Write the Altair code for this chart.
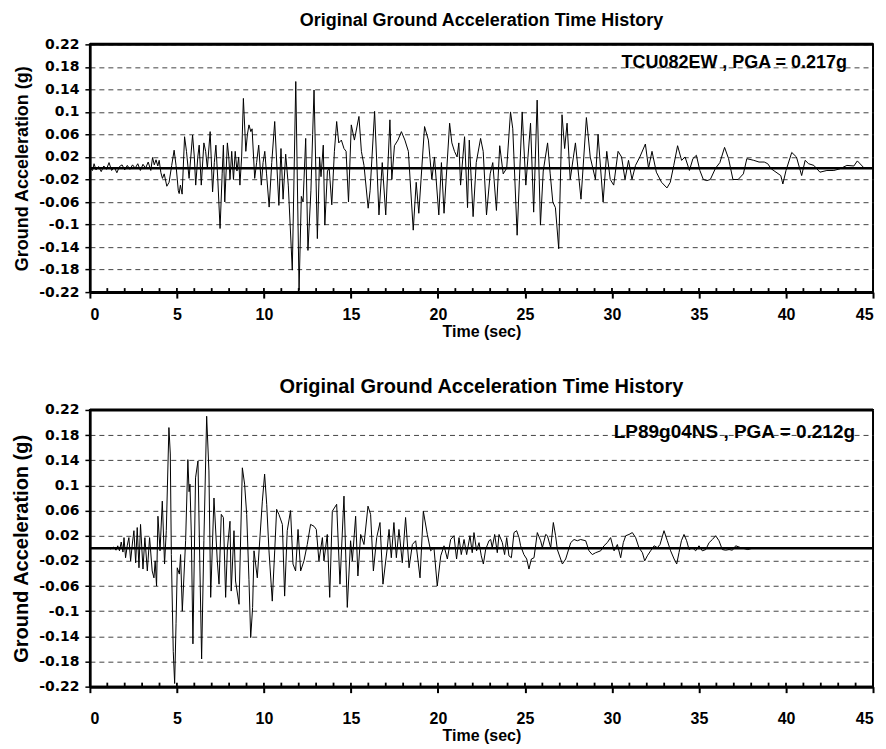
import altair as alt
import pandas as pd

# ---- records -------------------------------------------------------------
TITLE = "Original Ground Acceleration Time History"

tcu_label = "TCU082EW , PGA = 0.217g"
tcu_time = [
    0.0, 0.15, 0.24, 0.35, 0.5, 0.65, 0.8, 0.95, 1.1, 1.25, 1.4, 1.55, 1.7, 1.85,
    2.0, 2.15, 2.3, 2.45, 2.6, 2.75, 2.9, 3.05, 3.2, 3.35, 3.5, 3.6, 3.7, 3.8,
    3.9, 3.98, 4.08, 4.17, 4.27, 4.42, 4.55, 4.7, 4.84, 4.95, 5.08, 5.13, 5.2,
    5.3, 5.44, 5.55, 5.7, 5.9, 6.0, 6.08, 6.2, 6.28, 6.4, 6.55, 6.65, 6.75, 6.91,
    7.05, 7.15, 7.24, 7.35, 7.48, 7.6, 7.67, 7.75, 7.9, 7.98, 8.05, 8.15, 8.25,
    8.35, 8.45, 8.55, 8.62, 8.72, 8.82, 8.96, 9.05, 9.14, 9.25, 9.32, 9.47, 9.58,
    9.7, 9.85, 9.95, 10.05, 10.15, 10.3, 10.45, 10.62, 10.75, 10.86, 10.98, 11.1,
    11.25, 11.4, 11.63, 11.83, 12.02, 12.15, 12.25, 12.4, 12.53, 12.7, 12.8,
    12.88, 13.07, 13.2, 13.28, 13.41, 13.5, 13.65, 13.75, 13.9, 14.05, 14.18,
    14.3, 14.45, 14.6, 14.72, 14.86, 15.02, 15.2, 15.46, 15.6, 15.75, 15.99,
    16.1, 16.36, 16.61, 16.8, 17.0, 17.24, 17.35, 17.5, 17.7, 17.9, 18.1, 18.3,
    18.58, 18.75, 18.9, 19.23, 19.45, 19.65, 19.8, 20.05, 20.2, 20.35, 20.67,
    20.8, 20.95, 21.1, 21.2, 21.3, 21.53, 21.7, 21.8, 22.02, 22.2, 22.45, 22.6,
    22.79, 23.0, 23.15, 23.36, 23.55, 23.75, 23.95, 24.17, 24.3, 24.55, 24.84,
    25.05, 25.32, 25.5, 25.7, 25.89, 26.05, 26.3, 26.45, 26.6, 26.75, 26.94,
    27.13, 27.28, 27.42, 27.6, 27.9, 28.22, 28.53, 28.75, 29.05, 29.2, 29.49,
    29.7, 29.9, 30.1, 30.35, 30.55, 30.75, 30.95, 31.15, 31.35, 31.6, 31.92,
    32.1, 32.3, 32.55, 32.85, 33.16, 33.35, 33.55, 33.77, 34.0, 34.2, 34.45,
    34.65, 34.85, 35.05, 35.25, 35.45, 35.65, 35.95, 36.2, 36.47, 36.7, 36.95,
    37.25, 37.55, 37.75, 38.15, 38.45, 38.75, 38.95, 39.15, 39.7, 39.82, 40.0,
    40.33, 40.6, 40.9, 41.1, 41.3, 41.6, 41.95, 42.35, 42.75, 43.1, 43.5, 43.9,
    44.1, 44.5, 44.9,
]
tcu_accel = [
    0.0, -0.004, 0.008, -0.003, 0.003, -0.006, 0.004, -0.002, 0.01, -0.004,
    0.002, -0.008, 0.003, 0.006, -0.003, 0.005, -0.002, 0.006, 0.0, 0.008,
    -0.004, 0.007, 0.0, 0.011, -0.004, 0.019, 0.006, 0.015, 0.004, 0.014,
    -0.008, -0.018, -0.01, -0.032, -0.025, 0.005, 0.032, 0.005, -0.04, -0.045,
    -0.03, -0.046, 0.056, 0.03, -0.018, 0.059, 0.02, -0.03, 0.02, 0.041, -0.03,
    0.045, 0.03, 0.0, 0.065, -0.042, 0.01, 0.041, -0.02, -0.107, -0.01, 0.041,
    -0.06, 0.045, 0.02, -0.02, 0.03, -0.02, 0.03, -0.005, 0.02, -0.03, 0.02,
    0.124, 0.03, 0.06, 0.077, 0.065, 0.07, -0.018, 0.01, 0.041, -0.03, 0.01,
    0.03, -0.01, -0.069, 0.01, 0.083, 0.0, -0.066, 0.035, -0.055, 0.025, -0.03,
    -0.181, 0.154, -0.216, -0.05, -0.06, 0.053, -0.146, -0.04, 0.06, 0.139,
    -0.125, 0.02, -0.015, 0.041, -0.101, -0.005, 0.0, -0.065, 0.03, 0.083,
    0.045, 0.05, 0.035, 0.03, -0.06, 0.077, 0.05, 0.092, 0.03, 0.005, -0.071,
    -0.04, 0.101, -0.083, 0.01, -0.083, 0.086, -0.02, 0.04, 0.05, 0.065, 0.05,
    0.03, -0.11, -0.025, -0.08, 0.074, 0.05, -0.02, 0.02, -0.083, 0.01, -0.08,
    0.08, 0.045, 0.03, 0.02, 0.045, -0.03, 0.056, -0.07, 0.05, -0.086, 0.01,
    0.053, 0.03, -0.083, -0.01, 0.01, -0.075, 0.04, -0.01, 0.0, 0.1, 0.07,
    -0.119, 0.1, -0.03, 0.08, -0.078, 0.121, -0.101, -0.005, 0.045, -0.01,
    -0.06, -0.07, -0.143, 0.095, 0.035, 0.08, -0.02, 0.045, -0.055, 0.09, 0.02,
    -0.02, 0.06, -0.06, 0.03, -0.02, -0.03, 0.03, 0.02, -0.02, 0.014, -0.02,
    0.005, 0.02, 0.043, 0.0, 0.03, -0.007, -0.025, -0.035, -0.025, 0.005, 0.04,
    0.014, 0.02, -0.004, 0.017, 0.023, -0.004, -0.02, -0.022, -0.02, 0.0, 0.01,
    0.037, 0.017, -0.02, -0.02, -0.01, 0.017, 0.014, 0.011, 0.011, 0.008,
    -0.001, -0.013, -0.028, -0.004, 0.028, 0.02, -0.013, 0.014, 0.008, 0.005,
    -0.007, -0.004, -0.004, -0.001, 0.005, 0.004, 0.013, 0.0, 0.0,
]

lp_label = "LP89g04NS , PGA = 0.212g"
lp_time = [
    0.0, 0.6, 1.0, 1.2, 1.38, 1.5, 1.6, 1.7, 1.8, 1.9, 1.96, 2.05, 2.15, 2.24,
    2.34, 2.45, 2.53, 2.63, 2.72, 2.82, 2.91, 3.05, 3.16, 3.3, 3.43, 3.58, 3.68,
    3.75, 3.83, 3.91, 4.03, 4.16, 4.29, 4.39, 4.54, 4.62, 4.68, 4.79, 4.87,
    4.95, 5.02, 5.14, 5.21, 5.31, 5.5, 5.63, 5.7, 5.75, 5.83, 5.92, 6.07, 6.21,
    6.3, 6.42, 6.55, 6.71, 6.84, 6.94, 7.13, 7.32, 7.42, 7.55, 7.67, 7.8, 7.9,
    8.05, 8.12, 8.28, 8.37, 8.57, 8.76, 8.89, 9.01, 9.14, 9.24, 9.35, 9.43,
    9.62, 9.72, 9.91, 10.04, 10.16, 10.29, 10.48, 10.62, 10.73, 10.86, 11.06,
    11.19, 11.34, 11.53, 11.67, 11.82, 11.96, 12.11, 12.3, 12.49, 12.68, 12.88,
    13.01, 13.16, 13.36, 13.45, 13.64, 13.78, 13.93, 14.18, 14.37, 14.6, 14.79,
    14.98, 15.08, 15.27, 15.4, 15.56, 15.75, 15.98, 16.13, 16.29, 16.48, 16.67,
    16.84, 17.09, 17.19, 17.32, 17.47, 17.61, 17.76, 17.95, 18.14, 18.34,
    18.53, 18.72, 18.97, 19.16, 19.39, 19.58, 19.77, 19.96, 20.16, 20.35,
    20.54, 20.73, 20.92, 21.07, 21.21, 21.34, 21.5, 21.65, 21.84, 21.97, 22.07,
    22.22, 22.36, 22.49, 22.61, 22.74, 22.93, 23.03, 23.12, 23.26, 23.41,
    23.51, 23.7, 23.83, 23.95, 24.08, 24.22, 24.37, 24.52, 24.66, 24.75, 24.94,
    25.1, 25.23, 25.37, 25.52, 25.71, 25.9, 26.0, 26.19, 26.29, 26.48, 26.63,
    26.76, 26.86, 27.15, 27.34, 27.63, 27.82, 28.01, 28.2, 28.49, 28.68, 28.87,
    29.06, 29.35, 29.54, 29.73, 29.92, 30.12, 30.31, 30.5, 30.65, 30.79, 30.98,
    31.17, 31.36, 31.55, 31.75, 31.88, 32.03, 32.22, 32.42, 32.61, 32.76,
    32.99, 33.18, 33.37, 33.57, 33.72, 33.85, 33.99, 34.14, 34.29, 34.43,
    34.62, 34.81, 35.0, 35.19, 35.39, 35.58, 35.77, 35.96, 36.15, 36.34, 36.53,
    36.73, 36.92, 37.11, 37.4, 37.8, 38.2, 38.5,
]
lp_accel = [
    0.0, 0.0, 0.001, -0.001, 0.002, -0.003, 0.004, -0.004, 0.01, -0.006, 0.017,
    -0.015, 0.005, 0.017, -0.02, 0.01, 0.028, -0.023, 0.033, -0.031, 0.038,
    -0.033, 0.017, -0.036, 0.017, -0.036, -0.047, -0.02, -0.06, 0.051, -0.004,
    0.075, -0.025, 0.028, 0.192, 0.15, -0.01, -0.164, -0.215, -0.12, -0.031,
    -0.041, -0.01, -0.1, 0.012, 0.141, 0.09, 0.102, 0.02, -0.152, 0.112, 0.139,
    0.0, -0.176, 0.012, 0.21, 0.123, -0.078, 0.08, -0.02, -0.057, 0.054, 0.049,
    -0.078, 0.0, 0.043, -0.068, 0.028, -0.052, -0.089, 0.128, 0.102, 0.054,
    -0.05, -0.142, -0.094, -0.004, -0.047, -0.004, 0.075, 0.118, 0.07, -0.004,
    -0.084, -0.004, 0.062, 0.054, 0.038, -0.076, 0.028, 0.06, -0.025, -0.036,
    0.03, -0.036, -0.02, 0.006, 0.038, 0.035, 0.03, -0.02, 0.017, -0.02, 0.022,
    -0.078, 0.059, 0.07, -0.057, 0.083, -0.094, 0.012, -0.02, 0.051, -0.044,
    0.022, 0.006, 0.067, 0.054, -0.036, 0.017, 0.041, -0.057, 0.001, 0.03,
    -0.015, 0.041, -0.015, 0.03, -0.023, 0.049, -0.031, 0.006, 0.012, -0.047,
    0.059, 0.022, -0.004, 0.001, -0.06, -0.012, 0.004, -0.017, 0.014, 0.02,
    -0.017, 0.017, -0.01, 0.014, -0.01, 0.02, -0.007, 0.025, -0.004, 0.009,
    -0.012, -0.025, -0.002, 0.012, 0.014, 0.001, 0.022, -0.007, 0.022, 0.009,
    -0.01, 0.017, -0.012, -0.015, 0.025, 0.028, 0.017, 0.004, -0.01, -0.017,
    -0.033, -0.017, -0.015, 0.025, 0.012, 0.001, 0.022, 0.02, 0.001, 0.041,
    0.02, -0.002, -0.025, -0.017, 0.009, 0.014, 0.012, 0.014, 0.012, -0.004,
    -0.01, -0.007, -0.004, 0.004, 0.009, 0.017, -0.004, 0.006, -0.015, 0.009,
    0.02, 0.022, 0.025, 0.017, 0.001, -0.007, -0.02, -0.012, -0.004, 0.004,
    0.001, 0.006, 0.028, 0.012, -0.004, -0.017, -0.025, -0.007, 0.012, 0.022,
    0.012, -0.002, 0.001, -0.004, 0.004, -0.004, -0.002, 0.009, 0.014, 0.02,
    0.012, -0.002, -0.003, -0.002, -0.003, 0.004, 0.001, -0.002, 0.001, 0.0,
]

# ---- axes ----------------------------------------------------------------
y_ticks = [0.22, 0.18, 0.14, 0.1, 0.06, 0.02, -0.02, -0.06, -0.1, -0.14, -0.18, -0.22]
x_ticks = [0, 5, 10, 15, 20, 25, 30, 35, 40, 45]
minor_ticks = list(range(0, 46))

SANS = "Liberation Sans"
LABEL_FONT = "DejaVu Sans"
WIDTH = 784

x_scale = alt.Scale(domain=[0, 45], nice=False, zero=False)
y_scale = alt.Scale(domain=[-0.22, 0.22], nice=False, zero=False)


def panel(times, accel, label, height, title_size, title_offset, ytitle_size,
          note_size, note_dx, note_dy, xlabel_pad):
    trace = pd.DataFrame({"t": times, "a": accel})
    x_enc = alt.X(
        "t:Q", scale=x_scale,
        axis=alt.Axis(
            values=x_ticks, format="d", title="Time (sec)",
            labelFont=SANS, labelFontSize=16, labelFontWeight="bold",
            labelPadding=xlabel_pad, labelColor="black",
            titleFont=SANS, titleFontSize=16, titleFontWeight="bold",
            titlePadding=1, titleColor="black",
            tickSize=6, tickWidth=2, tickColor="black",
            domainWidth=3, domainColor="black", grid=False,
        ),
    )
    y_enc = alt.Y(
        "a:Q", scale=y_scale,
        axis=alt.Axis(
            values=y_ticks,
            labelExpr="replace(format(datum.value, '.2~f'), '\u2212', '-')",
            title="Ground Acceleration (g)",
            labelFont=LABEL_FONT, labelFontSize=14, labelFontWeight="bold",
            labelPadding=6, labelColor="black",
            titleFont=SANS, titleFontSize=ytitle_size, titleFontWeight="bold",
            titlePadding=7, titleColor="black",
            tickSize=5, tickWidth=1.5, tickColor="black",
            domainWidth=2.5, domainColor="black",
            grid=True, gridColor="#444444", gridDash=[5, 4], gridWidth=1,
        ),
    )

    line = alt.Chart(trace).mark_line(color="black", strokeWidth=1.0).encode(
        x=x_enc, y=y_enc, order="t:Q"
    )
    zero = alt.Chart(pd.DataFrame({"a": [0.0]})).mark_rule(
        color="black", strokeWidth=2.6
    ).encode(y=y_enc)
    top_edge = alt.Chart(pd.DataFrame({"a": [0.22]})).mark_rule(
        color="black", strokeWidth=3
    ).encode(y=y_enc)
    minor = alt.Chart(pd.DataFrame({"t": minor_ticks})).mark_rule(
        color="black", strokeWidth=1.8
    ).encode(x=x_enc, y=alt.value(height), y2=alt.value(height - 4))
    note = alt.Chart(pd.DataFrame({"text": [label]})).mark_text(
        align="right", baseline="middle", font=SANS, fontSize=note_size,
        fontWeight="bold", color="black",
    ).encode(text="text:N", x=alt.value(note_dx), y=alt.value(note_dy))

    return alt.layer(line, zero, top_edge, minor, note).properties(
        width=WIDTH, height=height,
        title=alt.TitleParams(
            TITLE, font=SANS, fontSize=title_size, fontWeight="bold",
            anchor="middle", color="black", offset=title_offset,
        ),
    )


top = panel(tcu_time, tcu_accel, tcu_label, 248, 18, 7, 18, 18, 758, 19, 8)
bottom = panel(lp_time, lp_accel, lp_label, 277, 20, 6, 20, 19, 766, 22, 18)

chart = alt.vconcat(top, bottom, spacing=36).properties(
    padding={"left": 10, "top": 11, "right": 10, "bottom": 2},
    background="white",
).configure_view(stroke="black", strokeWidth=2)

chart.save("out.html", embed_options={"renderer": "svg", "actions": False})
